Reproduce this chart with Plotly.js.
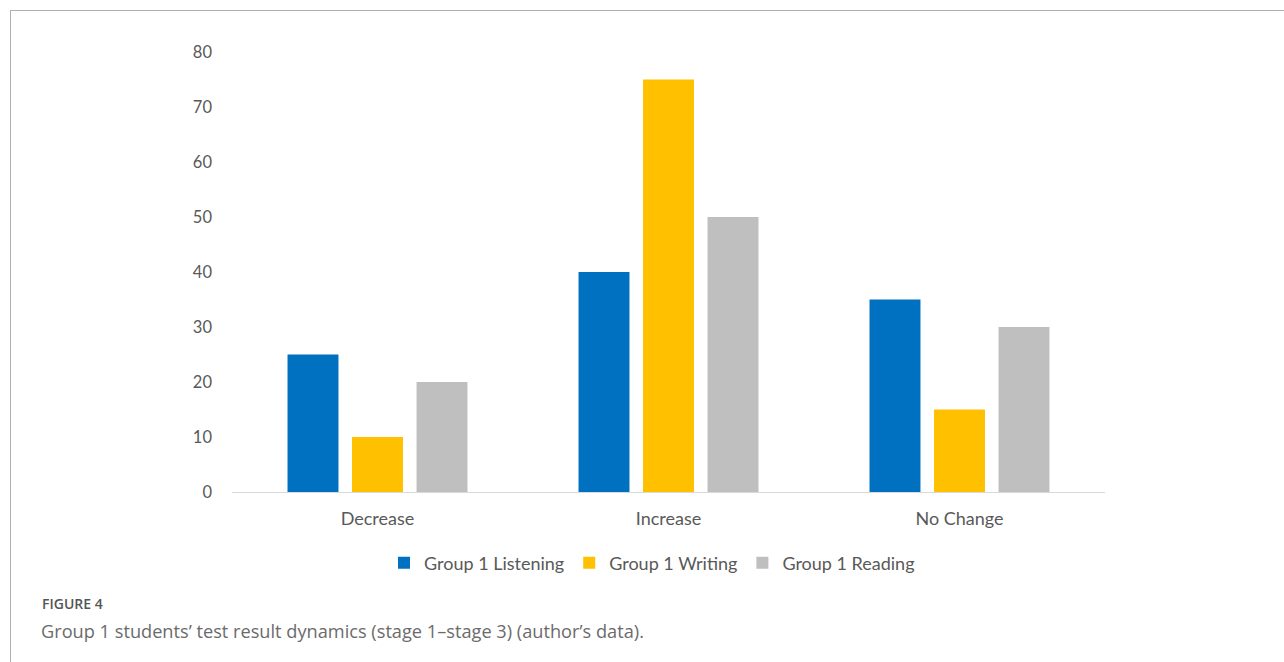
<!DOCTYPE html>
<html>
<head>
<meta charset="utf-8">
<script src="https://cdn.plot.ly/plotly-3.0.1.min.js"></script>
<style>
html,body{margin:0;padding:0;background:#fff;}
#frame{position:absolute;left:10px;top:10px;width:1300px;height:700px;border-top:1px solid #b0b0b0;border-left:1px solid #b0b0b0;}
#chart{position:absolute;left:0;top:0;width:1284px;height:662px;}
</style>
</head>
<body>
<div id="frame"></div>
<div id="chart"></div>
<script>
const categories = ["Decrease", "Increase", "No Change"];
const seriesNames = ["Group 1 Listening", "Group 1 Writing", "Group 1 Reading"];
const listening = [25, 40, 35];
const writing = [10, 75, 15];
const reading = [20, 50, 30];
const yTicks = [0, 10, 20, 30, 40, 50, 60, 70, 80];
const colors = ["#0070C0", "#FFC000", "#BFBFBF"];

const values = [listening, writing, reading];
const traces = values.map((v, i) => ({
  type: "bar",
  name: seriesNames[i],
  x: categories,
  y: v,
  marker: {color: colors[i]},
  hoverinfo: "x+y+name"
}));

const L = 232, R = 1105, T = 52, B = 492;
const W = 1284, H = 662;
const px = x => (x - L) / (R - L);
const py = y => (B - y) / (B - T);

const layout = {
  width: W, height: H,
  margin: {l: L, r: W - R, t: T, b: H - B, pad: 0},
  paper_bgcolor: "rgba(0,0,0,0)",
  plot_bgcolor: "rgba(0,0,0,0)",
  font: {family: "Lato, 'Open Sans', sans-serif", color: "#595959", size: 16},
  barmode: "group",
  bargap: 0.335,
  bargroupgap: 0.21,
  showlegend: true,
  legend: {
    orientation: "h",
    x: px(652), xanchor: "center",
    y: py(563), yanchor: "middle",
    font: {size: 18, color: "#595959"},
    itemwidth: 30,
    traceorder: "normal"
  },
  xaxis: {
    type: "category",
    showline: true, linecolor: "#d9d9d9", linewidth: 1,
    showgrid: false, zeroline: false,
    ticks: "", ticklabelstandoff: 10,
    tickfont: {size: 18, color: "#595959"}
  },
  yaxis: {
    range: [0, 80],
    tickvals: yTicks,
    ticktext: yTicks.map(String),
    showgrid: false, zeroline: false, showline: false,
    ticks: "", ticklabelstandoff: 19,
    tickfont: {size: 16.5, color: "#595959"}
  },
  annotations: [
    {text: "FIGURE 4", xref: "paper", yref: "paper", x: px(40), y: py(604),
     xanchor: "left", yanchor: "middle", showarrow: false,
     font: {family: "'Open Sans', sans-serif", size: 14, weight: 600, color: "#555555"}},
    {text: "Group 1 students\u2019 test result dynamics (stage 1\u2013stage 3) (author\u2019s data).",
     xref: "paper", yref: "paper", x: px(39), y: py(631),
     xanchor: "left", yanchor: "middle", showarrow: false,
     font: {family: "'Open Sans', sans-serif", size: 18.2, color: "#6b6b6b"}}
  ]
};

Plotly.newPlot("chart", traces, layout, {displayModeBar: false});
</script>
</body>
</html>
